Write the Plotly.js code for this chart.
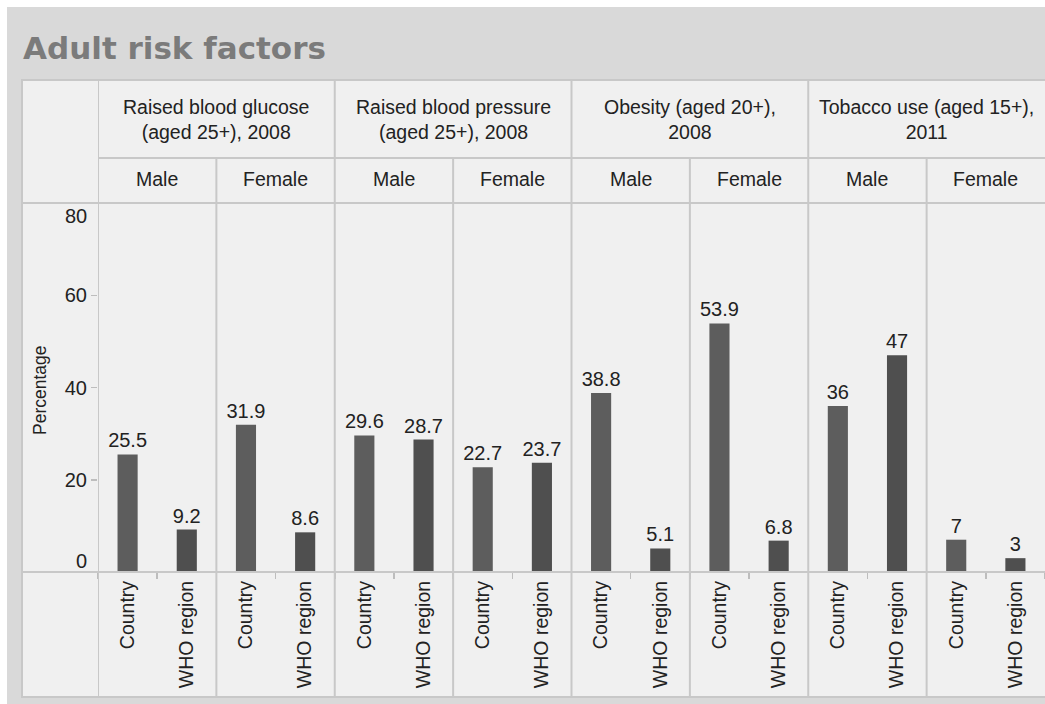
<!DOCTYPE html>
<html>
<head>
<meta charset="utf-8">
<script src="https://cdn.plot.ly/plotly-3.0.1.min.js"></script>
<style>html,body{margin:0;padding:0;background:#fff;}#chart{width:1045px;height:704px;}</style>
</head>
<body>
<div id="chart"></div>
<script>
// ---- data ----
const chartTitle = "Adult risk factors";
const groups = [
  "Raised blood glucose<br>(aged 25+), 2008",
  "Raised blood pressure<br>(aged 25+), 2008",
  "Obesity (aged 20+),<br>2008",
  "Tobacco use (aged 15+),<br>2011"
];
const sexes = ["Male", "Female"];
const sources = ["Country", "WHO region"];
const countryValues = [25.5, 31.9, 29.6, 22.7, 38.8, 53.9, 36, 7];
const whoValues = [9.2, 8.6, 28.7, 23.7, 5.1, 6.8, 47, 3];
const yTickValues = [0, 20, 40, 60, 80];
const yTitle = "Percentage";

// ---- layout helpers ----
const W = 1045, H = 704;
const px = x => x / W;
const py = y => 1 - y / H;
const gridColor = "#c8c8c8";
const textColor = "#222222";
const FONT = "Liberation Sans, Arial, sans-serif";

// categories
const cats = [], catLabels = [];
groups.forEach((g, gi) => sexes.forEach((s, si) => sources.forEach(src => {
  cats.push(gi + "|" + si + "|" + src);
  catLabels.push(src);
})));
const countryCats = cats.filter((c, i) => i % 2 === 0);
const whoCats = cats.filter((c, i) => i % 2 === 1);

const barW = 0.34;
const traces = [
  {type: "bar", x: countryCats, y: countryValues, width: barW, name: sources[0],
   marker: {color: "#5d5d5d"}, text: countryValues.map(String), textposition: "outside", constraintext: "none",
   textfont: {family: FONT, size: 20, color: textColor}, cliponaxis: false, hoverinfo: "x+y"},
  {type: "bar", x: whoCats, y: whoValues, width: barW, name: sources[1],
   marker: {color: "#4f4f4f"}, text: whoValues.map(String), textposition: "outside", constraintext: "none",
   textfont: {family: FONT, size: 20, color: textColor}, cliponaxis: false, hoverinfo: "x+y"}
];

const yTop = 203, yAxisY = 572, yHead1 = 80, yHead2 = 158, yBottom = 697, xLeft = 22;
const nCat = cats.length;
const perGroup = sexes.length * sources.length;

const shapes = [];
// outer grey frame
shapes.push({type: "rect", xref: "paper", yref: "paper", x0: px(7), x1: 1, y0: 0, y1: py(7),
  fillcolor: "#d9d9d9", line: {width: 0}, layer: "below"});
// table panel
shapes.push({type: "rect", xref: "paper", yref: "paper", x0: px(xLeft), x1: px(W + 5), y0: py(yBottom), y1: py(yHead1),
  fillcolor: "#f0f0f0", line: {color: gridColor, width: 2}, layer: "below"});
// horizontal lines
shapes.push({type: "line", xref: "x", yref: "paper", x0: -0.5, x1: nCat - 0.5, y0: py(yHead2), y1: py(yHead2), line: {color: gridColor, width: 2}});
[yTop, yAxisY].forEach(yy => shapes.push({type: "line", xref: "paper", yref: "paper", x0: px(xLeft), x1: 1, y0: py(yy), y1: py(yy), line: {color: gridColor, width: 2}}));
// vertical lines: first column border and group boundaries
shapes.push({type: "line", xref: "x", yref: "paper", x0: -0.5, x1: -0.5, y0: py(yBottom), y1: py(yHead1), line: {color: gridColor, width: 2}});
for (let g = 1; g < groups.length; g++) {
  const xb = g * perGroup - 0.5;
  shapes.push({type: "line", xref: "x", yref: "paper", x0: xb, x1: xb, y0: py(yBottom), y1: py(yHead1), line: {color: gridColor, width: 2}});
}
// sex boundaries within groups
for (let g = 0; g < groups.length; g++) {
  const xb = g * perGroup + sources.length - 0.5;
  shapes.push({type: "line", xref: "x", yref: "paper", x0: xb, x1: xb, y0: py(yBottom), y1: py(yHead2), line: {color: gridColor, width: 2}});
}

const annotations = [];
annotations.push({xref: "paper", yref: "paper", x: px(21), y: py(48), xanchor: "left", yanchor: "middle",
  text: "<b>" + chartTitle + "</b>", showarrow: false, font: {family: "DejaVu Sans, sans-serif", size: 31, color: "#7b7b7b"}});
groups.forEach((g, gi) => {
  annotations.push({xref: "x", yref: "paper", x: gi * perGroup + (perGroup - 1) / 2, y: py((yHead1 + yHead2) / 2),
    xanchor: "center", yanchor: "middle", text: g, showarrow: false, font: {family: FONT, size: 19.5, color: textColor}});
  sexes.forEach((s, si) => {
    annotations.push({xref: "x", yref: "paper", x: gi * perGroup + si * sources.length + (sources.length - 1) / 2,
      y: py((yHead2 + yTop) / 2 - 1), xanchor: "center", yanchor: "middle", text: s, showarrow: false,
      font: {family: FONT, size: 19.5, color: textColor}});
  });
});
// end tick labels (0 and 80) drawn inside the plot cell, without tick marks
const yMin = yTickValues[0], yMax = yTickValues[yTickValues.length - 1];
annotations.push({xref: "paper", yref: "y", x: px(89), y: yMin, xanchor: "right", yanchor: "bottom", yshift: -2,
  text: String(yMin), showarrow: false, font: {family: FONT, size: 20, color: textColor}});
annotations.push({xref: "paper", yref: "y", x: px(89), y: yMax, xanchor: "right", yanchor: "top", yshift: 0,
  text: String(yMax), showarrow: false, font: {family: FONT, size: 20, color: textColor}});
annotations.push({xref: "paper", yref: "paper", x: px(40), y: py(390), xanchor: "center", yanchor: "middle",
  text: yTitle, textangle: -90, showarrow: false, font: {family: FONT, size: 17.5, color: textColor}});

const layout = {
  width: W, height: H, autosize: false,
  margin: {l: 0, r: 0, t: 0, b: 0, pad: 0},
  paper_bgcolor: "#ffffff", plot_bgcolor: "rgba(0,0,0,0)",
  showlegend: false, barmode: "overlay",
  font: {family: FONT, color: textColor},
  xaxis: {domain: [px(98), 1], type: "category", categoryorder: "array", categoryarray: cats,
    range: [-0.5, nCat - 0.5], tickmode: "array", tickvals: cats, ticktext: catLabels,
    tickangle: -90, tickson: "boundaries", ticks: "outside", ticklen: 6, tickwidth: 1.5, tickcolor: "#bdbdbd",
    ticklabelstandoff: 4,
    tickfont: {family: FONT, size: 19.5, color: textColor}, showline: false, showgrid: false, zeroline: false,
    fixedrange: true},
  yaxis: {domain: [py(yAxisY), py(yTop)], range: [yMin, yMax], tickmode: "array",
    tickvals: yTickValues.slice(1, -1), ticktext: yTickValues.slice(1, -1).map(String),
    ticks: "outside", ticklen: 6, tickwidth: 1.5, tickcolor: "#bdbdbd",
    tickfont: {family: FONT, size: 20, color: textColor}, showline: false, showgrid: false, zeroline: false,
    fixedrange: true},
  shapes: shapes,
  annotations: annotations
};

Plotly.newPlot("chart", traces, layout, {displayModeBar: false, staticPlot: true});
</script>
</body>
</html>
